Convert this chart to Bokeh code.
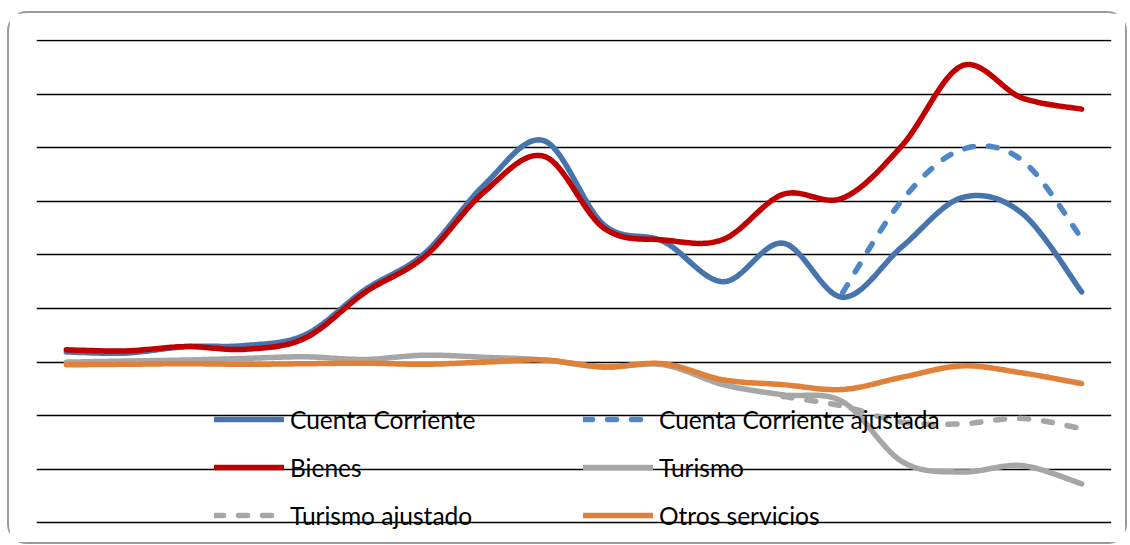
import numpy as np
from bokeh.plotting import figure
from bokeh.models import Legend, LegendItem, FixedTicker, Range1d, Grid
from bokeh.embed import file_html
from bokeh.resources import INLINE

nan = float("nan")

# ---- data (units = gridline steps) ----
periods = list(range(18))
cuenta_corriente = [0.19, 0.17, 0.29, 0.31, 0.51, 1.35, 2.03, 3.31, 4.13, 2.56,
                    2.25, 1.50, 2.22, 1.21, 2.16, 3.07, 2.78, 1.31]
cuenta_corriente_ajustada = [nan] * 13 + [1.30, 3.03, 3.97, 3.77, 2.31]
bienes = [0.23, 0.21, 0.29, 0.24, 0.45, 1.30, 1.97, 3.18, 3.84, 2.50,
          2.28, 2.29, 3.13, 3.06, 4.05, 5.53, 4.93, 4.72]
turismo = [0.00, 0.02, 0.04, 0.07, 0.10, 0.05, 0.13, 0.09, 0.04, -0.09,
           -0.05, -0.42, -0.61, -0.74, -1.86, -2.05, -1.93, -2.27]
turismo_ajustado = [nan] * 12 + [-0.64, -0.82, -1.12, -1.15, -1.05, -1.24]
otros_servicios = [-0.05, -0.04, -0.03, -0.04, -0.03, -0.02, -0.04, 0.00, 0.04, -0.09,
                   -0.03, -0.33, -0.42, -0.51, -0.28, -0.07, -0.20, -0.40]
grid_ticks = list(range(-3, 7))


def smooth(xs, ys, n=24):
    """Excel-like smoothed line (Catmull-Rom as cubic Bezier) through the data."""
    pts = [(x, y) for x, y in zip(xs, ys) if not np.isnan(y)]
    px = np.array([p[0] for p in pts], float)
    py = np.array([p[1] for p in pts], float)
    m = len(px)
    ox, oy = [], []
    for i in range(m - 1):
        a = max(i - 1, 0)
        d = min(i + 2, m - 1)
        c1x = px[i] + (px[i + 1] - px[a]) / 6
        c1y = py[i] + (py[i + 1] - py[a]) / 6
        c2x = px[i + 1] - (px[d] - px[i]) / 6
        c2y = py[i + 1] - (py[d] - py[i]) / 6
        t = np.linspace(0, 1, n, endpoint=(i == m - 2))
        u = 1 - t
        ox.extend(u**3 * px[i] + 3 * u**2 * t * c1x + 3 * u * t**2 * c2x + t**3 * px[i + 1])
        oy.extend(u**3 * py[i] + 3 * u**2 * t * c1y + 3 * u * t**2 * c2y + t**3 * py[i + 1])
    return ox, oy


# frame extends a little below the lowest gridline so the bottom legend row is not clipped
p = figure(width=1116, height=529, output_backend="svg", toolbar_location=None,
           x_range=Range1d(-0.5, 17.5), y_range=Range1d(-3.29, 6.019),
           x_axis_location=None, y_axis_location=None,
           min_border_left=27, min_border_right=18, min_border_top=26, min_border_bottom=8)
p.outline_line_color = None
p.background_fill_color = "white"
p.border_fill_color = "white"
for g in list(p.grid):
    g.visible = False
p.styles = {"border": "2px solid #9a9a9a", "border-radius": "20px",
            "box-sizing": "content-box", "margin-left": "7px", "margin-top": "11px"}

p.add_layout(Grid(dimension=1, ticker=FixedTicker(ticks=grid_ticks),
                  grid_line_color="black", grid_line_width=1.4))

LW = 5.5
common = dict(line_width=LW, line_cap="round", line_join="round")

x, y = smooth(periods, cuenta_corriente)
r_cc = p.line(x, y, line_color="#4675AE", **common)
x, y = smooth(periods, cuenta_corriente_ajustada)
r_cca = p.line(x, y, line_color="#4F86C6", line_dash="9 15", **common)
x, y = smooth(periods, bienes)
r_b = p.line(x, y, line_color="#C00000", **common)
x, y = smooth(periods, turismo)
r_t = p.line(x, y, line_color="#A6A6A6", **common)
x, y = smooth(periods, turismo_ajustado)
r_ta = p.line(x, y, line_color="#A6A6A6", line_dash="9 15", **common)
x, y = smooth(periods, otros_servicios)
r_o = p.line(x, y, line_color="#DF8138", **common)

leg_style = dict(orientation="vertical", background_fill_alpha=0, border_line_color=None,
                 padding=0, margin=0, spacing=18, glyph_width=70, glyph_height=30,
                 label_height=30, label_standoff=6, label_text_font="Lato",
                 label_text_font_size="24.5px", label_text_color="black")

leg1 = Legend(items=[LegendItem(label="Cuenta Corriente", renderers=[r_cc]),
                     LegendItem(label="Bienes", renderers=[r_b]),
                     LegendItem(label="Turismo ajustado", renderers=[r_ta])],
              location=(178, 8), **leg_style)
leg2 = Legend(items=[LegendItem(label="Cuenta Corriente ajustada", renderers=[r_cca]),
                     LegendItem(label="Turismo", renderers=[r_t]),
                     LegendItem(label="Otros servicios", renderers=[r_o])],
              location=(547, 8), **leg_style)
p.add_layout(leg1)
p.add_layout(leg2)

open("out.html", "w").write(file_html(p, INLINE))
